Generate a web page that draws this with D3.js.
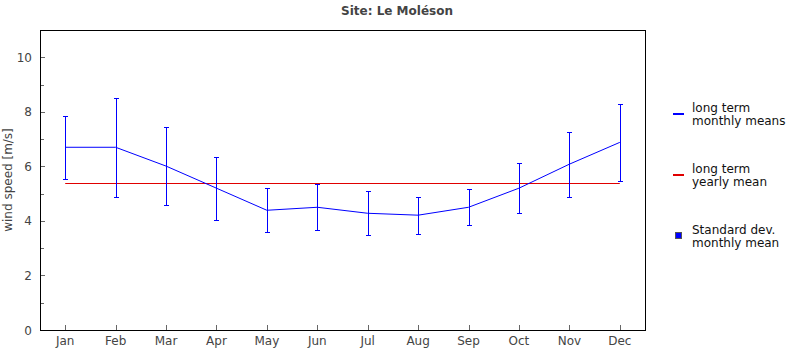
<!DOCTYPE html>
<html>
<head>
<meta charset="utf-8">
<script src="https://cdn.jsdelivr.net/npm/d3@7"></script>
<style>
  html, body { margin: 0; padding: 0; background: #fff; }
  text { font-family: "DejaVu Sans", sans-serif; }
</style>
</head>
<body>
<svg id="chart" width="795" height="350"></svg>
<script>
// Monthly wind speed at Le Moléson
const months = ["Jan", "Feb", "Mar", "Apr", "May", "Jun", "Jul", "Aug", "Sep", "Oct", "Nov", "Dec"];
const monthlyMean = [6.70, 6.70, 6.01, 5.20, 4.39, 4.50, 4.28, 4.21, 4.50, 5.20, 6.08, 6.88];
const monthlySd = [1.15, 1.82, 1.43, 1.16, 0.81, 0.84, 0.81, 0.68, 0.66, 0.92, 1.19, 1.42];
const yearlyMean = 5.38;
const yTicks = [0, 2, 4, 6, 8, 10];
const yMinorTicks = [1, 3, 5, 7, 9];

const svg = d3.select("#chart");
const plot = { left: 40, top: 30, right: 645, bottom: 330 };

const x = d3.scaleLinear().domain([0.5, 12.5]).range([plot.left, plot.right]);
const y = d3.scaleLinear().domain([0, 11]).range([plot.bottom, plot.top]);
const xm = i => x(i + 1);

const textColor = "#444";

// title
svg.append("text")
  .attr("x", 397).attr("y", 15)
  .attr("text-anchor", "middle")
  .attr("font-size", 12).attr("font-weight", "bold")
  .attr("fill", textColor)
  .text("Site: Le Moléson");

// y axis label
svg.append("text")
  .attr("transform", `translate(12,${(plot.top + plot.bottom) / 2}) rotate(-90)`)
  .attr("text-anchor", "middle")
  .attr("font-size", 12)
  .attr("fill", textColor)
  .text("wind speed [m/s]");

// y ticks (inside the frame)
const gy = svg.append("g");
gy.selectAll("line.major").data(yTicks).join("line")
  .attr("x1", plot.left).attr("x2", plot.left + 5)
  .attr("y1", d => Math.round(y(d)) + 0.5).attr("y2", d => Math.round(y(d)) + 0.5)
  .attr("stroke", "#666").attr("stroke-width", 1);
gy.selectAll("line.minor").data(yMinorTicks).join("line")
  .attr("x1", plot.left).attr("x2", plot.left + 4)
  .attr("y1", d => Math.round(y(d)) + 0.5).attr("y2", d => Math.round(y(d)) + 0.5)
  .attr("stroke", "#666").attr("stroke-width", 1);
gy.selectAll("text").data(yTicks).join("text")
  .attr("x", 32).attr("y", d => y(d) + 4.5)
  .attr("text-anchor", "end")
  .attr("font-size", 12)
  .attr("fill", textColor)
  .text(d => d);

// x ticks (inside the frame)
const gx = svg.append("g");
gx.selectAll("line").data(months).join("line")
  .attr("x1", (d, i) => Math.round(xm(i)) + 0.5).attr("x2", (d, i) => Math.round(xm(i)) + 0.5)
  .attr("y1", plot.bottom).attr("y2", plot.bottom - 5)
  .attr("stroke", "#666").attr("stroke-width", 1);
gx.selectAll("text").data(months).join("text")
  .attr("x", (d, i) => xm(i)).attr("y", plot.bottom + 15)
  .attr("text-anchor", "middle")
  .attr("font-size", 12)
  .attr("fill", textColor)
  .text(d => d);

// long term yearly mean
svg.append("line")
  .attr("x1", xm(0)).attr("x2", xm(11))
  .attr("y1", Math.round(y(yearlyMean)) + 0.5).attr("y2", Math.round(y(yearlyMean)) + 0.5)
  .attr("stroke", "#e00000").attr("stroke-width", 1);

// monthly means line
svg.append("path")
  .datum(monthlyMean)
  .attr("fill", "none")
  .attr("stroke", "#0000ff")
  .attr("stroke-width", 1)
  .attr("d", d3.line().x((d, i) => xm(i)).y(d => y(d)));

// standard deviation error bars
const eb = svg.append("g").attr("stroke", "#0000ff").attr("stroke-width", 1);
months.forEach((m, i) => {
  const cx = Math.round(xm(i)) + 0.5;
  const hi = Math.round(y(monthlyMean[i] + monthlySd[i])) + 0.5;
  const lo = Math.round(y(monthlyMean[i] - monthlySd[i])) + 0.5;
  eb.append("line").attr("x1", cx).attr("x2", cx).attr("y1", hi).attr("y2", lo);
  eb.append("line").attr("x1", cx - 2.5).attr("x2", cx + 2.5).attr("y1", hi).attr("y2", hi);
  eb.append("line").attr("x1", cx - 2.5).attr("x2", cx + 2.5).attr("y1", lo).attr("y2", lo);
});

// frame
svg.append("rect")
  .attr("x", plot.left + 0.5).attr("y", plot.top + 0.5)
  .attr("width", plot.right - plot.left).attr("height", plot.bottom - plot.top)
  .attr("fill", "none").attr("stroke", "#000").attr("stroke-width", 1);

// legend
const legend = svg.append("g").attr("font-size", 12).attr("fill", "#111");
const legendItems = [
  { y: 108, lines: ["long term", "monthly means"], kind: "line", color: "#0000ff" },
  { y: 169, lines: ["long term", "yearly mean"], kind: "line", color: "#e00000" },
  { y: 230, lines: ["Standard dev.", "monthly mean"], kind: "box", color: "#0000ff" }
];
legendItems.forEach(it => {
  const mid = it.y + 6;
  if (it.kind === "line") {
    legend.append("line")
      .attr("x1", 673).attr("x2", 684)
      .attr("y1", mid).attr("y2", mid)
      .attr("stroke", it.color).attr("stroke-width", 2);
  } else {
    legend.append("rect")
      .attr("x", 675.5).attr("y", mid - 3.5)
      .attr("width", 6).attr("height", 6)
      .attr("fill", it.color).attr("stroke", "#555").attr("stroke-width", 1);
  }
  it.lines.forEach((t, k) => {
    legend.append("text")
      .attr("x", 692).attr("y", it.y + 4 + k * 12.5)
      .attr("fill", "#111")
      .text(t);
  });
});
</script>
</body>
</html>
